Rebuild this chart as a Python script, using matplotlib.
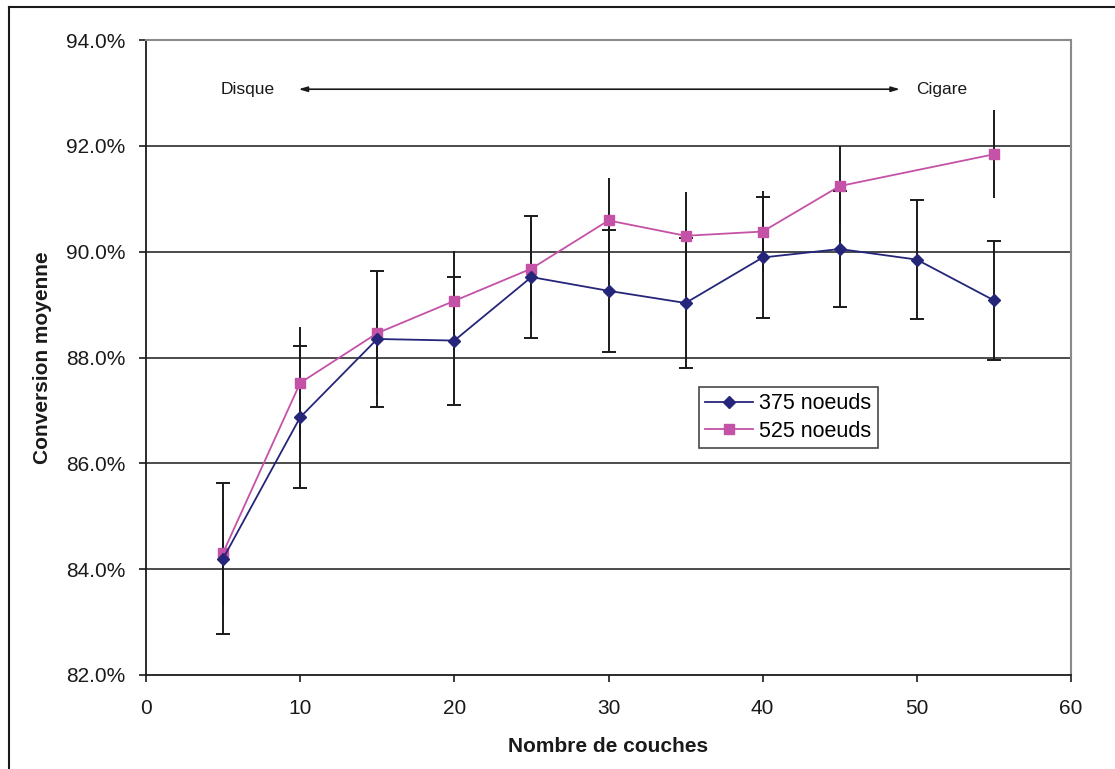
import matplotlib
matplotlib.use("Agg")
import matplotlib.pyplot as plt
from matplotlib.ticker import FuncFormatter, MultipleLocator
from matplotlib.lines import Line2D

plt.rcParams['font.family'] = ['Liberation Sans', 'DejaVu Sans']

# Data (conversion in %)
layers_375 = [5, 10, 15, 20, 25, 30, 35, 40, 45, 50, 55]
conv_375 = [84.20, 86.87, 88.35, 88.32, 89.52, 89.26, 89.03, 89.89, 90.05, 89.85, 89.08]
err_375 = [1.42, 1.34, 1.28, 1.21, 1.15, 1.15, 1.22, 1.14, 1.10, 1.13, 1.13]

layers_525 = [5, 10, 15, 20, 25, 30, 35, 40, 45, 55]
conv_525 = [84.31, 87.52, 88.46, 89.07, 89.68, 90.59, 90.30, 90.38, 91.24, 91.84]
err_525 = [1.00, 1.05, 1.15, 0.95, 0.90, 0.81, 0.82, 0.77, 0.76, 0.83]

series_labels = ["375 noeuds", "525 noeuds"]
xlabel = "Nombre de couches"
ylabel = "Conversion moyenne"
left_note = "Disque"
right_note = "Cigare"

W, H = 1115, 769
fig = plt.figure(figsize=(W / 100, H / 100), dpi=100)
ax = fig.add_axes([146 / W, 1 - 675 / H, (1071 - 146) / W, (675 - 40) / H])

navy = '#25257a'
pink = '#c452a6'

# gridlines
for g in [84, 86, 88, 90, 92]:
    ax.axhline(g, color='#1a1a1a', lw=1.1, zorder=1)

# error bars
ax.errorbar(layers_525, conv_525, yerr=err_525, fmt='none', ecolor='#1a1a1a',
            elinewidth=1.4, capsize=0, zorder=2)
ax.errorbar(layers_375, conv_375, yerr=err_375, fmt='none', ecolor='#1a1a1a',
            elinewidth=1.4, capsize=5, capthick=1.4, zorder=2)

l1, = ax.plot(layers_375, conv_375, color=navy, lw=1.3, marker='D', ms=6.5,
              mfc=navy, mec=navy, zorder=4, label=series_labels[0])
l2, = ax.plot(layers_525, conv_525, color=pink, lw=1.3, marker='s', ms=6.5,
              mfc=pink, mec=pink, zorder=3, label=series_labels[1])

ax.set_xlim(0, 60)
ax.set_ylim(82, 94)
ax.xaxis.set_major_locator(MultipleLocator(10))
ax.yaxis.set_major_locator(MultipleLocator(2))
ax.yaxis.set_major_formatter(FuncFormatter(lambda v, p: f"{v:.1f}%"))

ax.tick_params(axis='both', direction='out', length=5, width=1.2, labelsize=15, colors='#1a1a1a')
ax.tick_params(axis='y', pad=10)
ax.tick_params(axis='x', pad=12)

for s in ['left', 'bottom']:
    ax.spines[s].set_color('#1a1a1a')
    ax.spines[s].set_linewidth(1.3)
for s in ['top', 'right']:
    ax.spines[s].set_color('#8a8a8a')
    ax.spines[s].set_linewidth(1.5)

ax.set_xlabel(xlabel, fontsize=15, fontweight='bold', labelpad=14, color='#1a1a1a')
ax.set_ylabel(ylabel, fontsize=15, fontweight='bold', labelpad=10, color='#1a1a1a')

leg = ax.legend(handles=[l1, l2], loc='upper left', bbox_to_anchor=((699 - 146) / 925, (675 - 387) / 635),
                fontsize=15.5, frameon=True, fancybox=False, edgecolor='#1a1a1a',
                handlelength=2.2, handletextpad=0.3, borderpad=0.3, labelspacing=0.3,
                borderaxespad=0)
leg.get_frame().set_linewidth(1.2)
leg.set_zorder(5)

# Disque <-> Cigare annotation
ax.text(6.6, 93.07, left_note, fontsize=12.5, ha='center', va='center', color='#1a1a1a')
ax.text(51.6, 93.07, right_note, fontsize=12.5, ha='center', va='center', color='#1a1a1a')
ax.annotate('', xy=(48.9, 93.07), xytext=(9.9, 93.07),
            arrowprops=dict(arrowstyle='<|-|>,head_length=0.5,head_width=0.15',
                            color='#1a1a1a', lw=1.2, shrinkA=0, shrinkB=0))

# outer chart border (cut at right/bottom like reference)
fig.add_artist(Line2D([9 / W, 9 / W], [0, 1 - 7 / H], transform=fig.transFigure, color='#1a1a1a', lw=1.5))
fig.add_artist(Line2D([9 / W, 1], [1 - 7 / H, 1 - 7 / H], transform=fig.transFigure, color='#1a1a1a', lw=1.5))

fig.savefig('out.png', dpi=100, facecolor='white')
